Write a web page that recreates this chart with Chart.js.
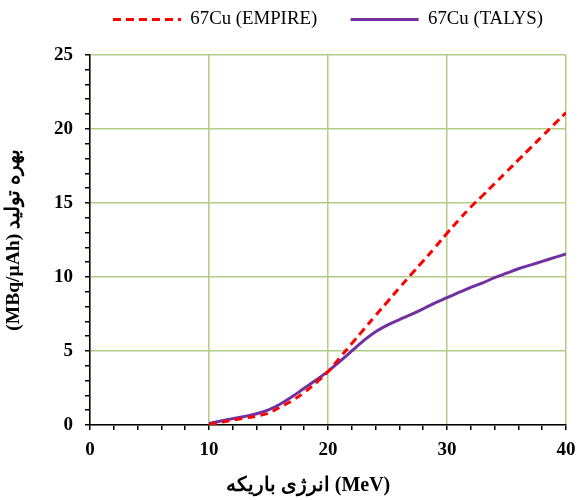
<!DOCTYPE html>
<html>
<head>
<meta charset="utf-8">
<script src="https://cdn.jsdelivr.net/npm/chart.js@4"></script>
<style>
  body { margin: 0; background: #fff; }
  #wrap { width: 579px; height: 500px; }
</style>
</head>
<body>
<div id="wrap"><canvas id="myChart"></canvas></div>
<script>
const energies = [10, 11, 12, 13, 14, 15, 16, 17, 18, 19, 20, 21, 22, 23, 24, 25,
  26, 27, 28, 29, 30, 31, 32, 33, 34, 35, 36, 37, 38, 39, 40];

const empire = [0.03, 0.18, 0.33, 0.47, 0.6, 0.8, 1.22, 1.65, 2.2, 2.85, 3.6, 4.55,
  5.5, 6.45, 7.4, 8.33, 9.26, 10.18, 11.08, 12.0, 12.95, 13.85, 14.72, 15.5, 16.3,
  17.1, 17.9, 18.7, 19.5, 20.3, 21.1];

const talys = [0.1, 0.27, 0.43, 0.58, 0.76, 1.02, 1.42, 1.92, 2.48, 3.04, 3.62, 4.3,
  5.0, 5.7, 6.3, 6.75, 7.12, 7.47, 7.85, 8.25, 8.6, 8.95, 9.3, 9.6, 9.95, 10.25,
  10.55, 10.8, 11.05, 11.3, 11.55];

const seriesNames = ["67Cu (EMPIRE)", "67Cu (TALYS)"];
const xTitle = "انرژی باریکه (MeV)";
const yTitle = "(MBq/µAh) بهره تولید";

const serif = "'Liberation Serif', 'Times New Roman', serif";
const gridGreen = "#b3cc85";
const nbsp = (n) => "\u00a0".repeat(n);

function points(ys) {
  return energies.map((e, i) => ({ x: e, y: ys[i] }));
}

const data = {
  datasets: [
    {
      label: seriesNames[0],
      data: points(empire),
      borderColor: "#ff0000",
      backgroundColor: "#ff0000",
      borderWidth: 3,
      borderDash: [8, 5],
      pointRadius: 0,
      tension: 0.4,
    },
    {
      label: seriesNames[1],
      data: points(talys),
      borderColor: "#7030a0",
      backgroundColor: "#7030a0",
      borderWidth: 3,
      pointRadius: 0,
      tension: 0.4,
    },
  ],
};

const config = {
  type: "line",
  data: data,
  options: {
    responsive: true,
    maintainAspectRatio: false,
    animation: false,
    layout: { padding: { left: 0, right: 13, top: 0, bottom: 0 } },
    plugins: {
      tooltip: { enabled: false },
      // empty title used as a spacer between legend and plot
      title: {
        display: true,
        text: "",
        weight: 500,
        padding: 0,
        font: { size: 13, lineHeight: "16px" },
      },
      legend: {
        position: "top",
        fullSize: false,
        labels: {
          usePointStyle: true,
          pointStyle: "line",
          pointStyleWidth: 68,
          padding: 10,
          color: "#000",
          font: { family: serif, size: 18.8 },
          generateLabels: function (chart) {
            const items = Chart.defaults.plugins.legend.labels.generateLabels(chart);
            items.forEach((it, i) => {
              const ds = chart.data.datasets[i];
              it.lineDash = ds.borderDash || [];
              it.lineWidth = ds.borderWidth;
              it.strokeStyle = ds.borderColor;
            });
            items[0].text = items[0].text + nbsp(5);
            return items;
          },
        },
      },
    },
    scales: {
      x: {
        type: "linear",
        min: 0,
        max: 40,
        ticks: {
          stepSize: 2,
          autoSkip: false,
          maxRotation: 0,
          padding: 9,
          color: "#000",
          font: { family: serif, size: 19, weight: "bold" },
          callback: (v) => (v % 10 === 0 ? v : ""),
        },
        grid: {
          color: (ctx) => (ctx.tick && ctx.tick.value % 10 === 0 ? gridGreen : "rgba(0,0,0,0)"),
          lineWidth: 1.5,
          tickColor: "#000",
          tickWidth: 1.5,
          tickLength: 5,
        },
        border: { color: "#000", width: 1.5 },
        title: {
          display: true,
          text: xTitle + nbsp(8),
          color: "#000",
          font: { family: serif, size: 20, weight: "bold" },
          padding: { top: 0, bottom: 2 },
        },
        afterFit: (s) => {
          s.height = 75;
          s.paddingRight = 0;
        },
      },
      y: {
        min: 0,
        max: 25,
        ticks: {
          stepSize: 1,
          autoSkip: false,
          padding: 12,
          color: "#000",
          font: { family: serif, size: 19, weight: "bold" },
          callback: (v) => (v % 5 === 0 ? v : ""),
        },
        grid: {
          color: (ctx) => (ctx.tick && ctx.tick.value % 5 === 0 ? gridGreen : "rgba(0,0,0,0)"),
          lineWidth: 1.5,
          tickColor: "#000",
          tickWidth: 1.5,
          tickLength: 5,
        },
        border: { color: "#000", width: 1.5 },
        title: {
          display: true,
          text: yTitle,
          color: "#000",
          font: { family: serif, size: 19.5, weight: "bold" },
          padding: { top: 2, bottom: 0 },
        },
        afterFit: (s) => { s.width = 90; },
      },
    },
  },
};

let myChart = new Chart(document.getElementById("myChart"), config);
</script>
</body>
</html>
